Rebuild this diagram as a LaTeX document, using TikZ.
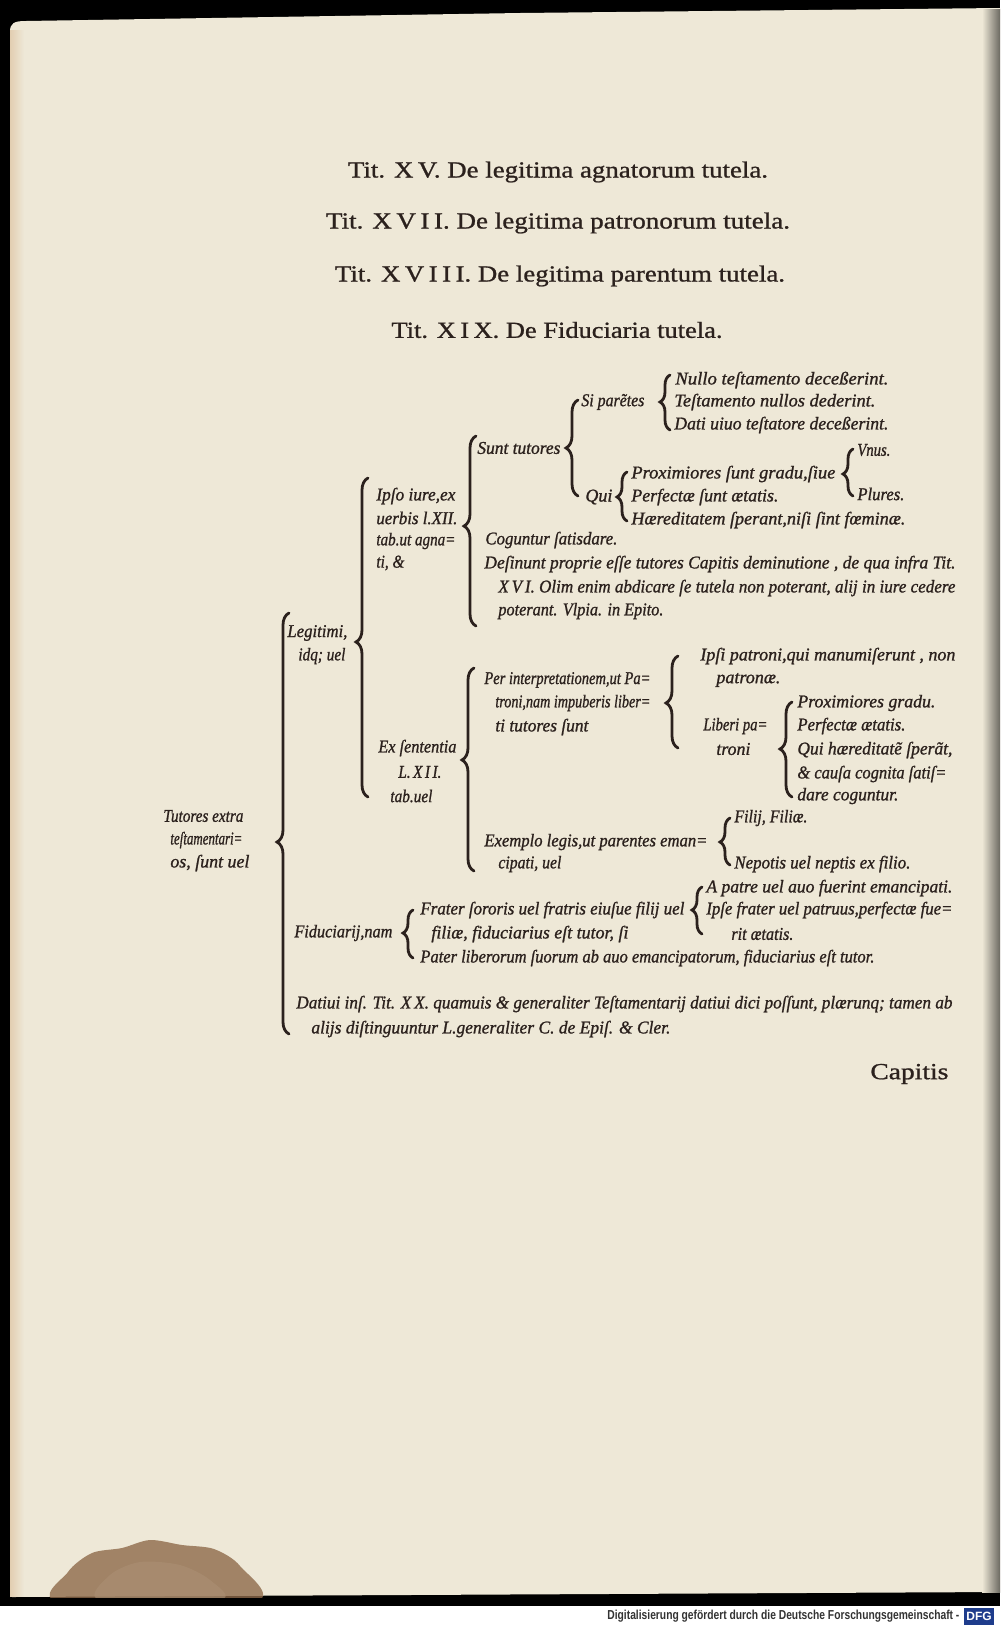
\documentclass[tikz,border=0pt]{standalone}
\usepackage{fontspec}
\setmainfont{Liberation Serif}[UprightFeatures={FakeBold=0.9}, ItalicFeatures={FakeBold=1.1}]
\newfontfamily\footfont{Liberation Sans}
\usepackage{graphicx}
\usetikzlibrary{decorations.pathreplacing}
\definecolor{paper}{HTML}{EEE8D7}
\definecolor{ink}{HTML}{2B211D}
\definecolor{stain}{HTML}{8E6A4A}
\definecolor{dfgblue}{HTML}{1E3C8C}
\newlength\pxu \setlength\pxu{0.5bp}
\newcommand\fw[2]{\resizebox{#1\pxu}{\height}{#2}}
\tikzset{
  tx/.style={anchor=west, inner sep=0pt, text=ink, font=\fontsize{9bp}{10bp}\selectfont\itshape},
  ttl/.style={anchor=center, inner sep=0pt, text=ink, font=\fontsize{11.5bp}{13bp}\selectfont},
  brc/.style 2 args={draw=ink, line width=1.4bp, line cap=round, decorate,
    decoration={brace, amplitude=#1, aspect=#2}},
}
\begin{document}
\begin{tikzpicture}[x=0.5bp, y=-0.5bp]
\useasboundingbox (0,0) rectangle (1000,1626);
% ---------- page and surroundings ----------
\fill[black] (0,0) rectangle (1000,1626);
\fill[white] (0,1606) rectangle (1000,1626);
\fill[paper] (10,32) .. controls (10,23) and (14,21) .. (26,21) -- (520,13) -- (1000,8) -- (1000,1592) -- (12,1597) -- cycle;
\shade[left color=paper, right color=black!55!paper] (982,9) rectangle (1000,1592);
\shade[left color=paper!75!brown, right color=paper] (10,30) rectangle (24,1596);
\begin{scope}
  \clip (0,0) rectangle (1000,1597);
  \fill[stain, opacity=0.8] plot[smooth cycle] coordinates {(60,1602) (68,1572) (92,1553) (122,1548) (150,1540) (182,1545) (214,1549) (240,1566) (254,1602)};
  \fill[stain!70!paper, opacity=0.6] plot[smooth cycle] coordinates {(100,1600) (110,1575) (140,1562) (180,1565) (210,1580) (220,1600)};
\end{scope}
% ---------- titles ----------
\node[ttl] (t1) at (558,172) {\fw{420}{Tit. X\,V. De legitima agnatorum tutela.}};
\node[ttl] (t2) at (558,223) {\fw{464}{Tit. X\,V\,I\,I. De legitima patronorum tutela.}};
\node[ttl] (t3) at (560,276) {\fw{450}{Tit. X\,V\,I\,I\,I. De legitima parentum tutela.}};
\node[ttl] (t4) at (557,330) {\fw{331}{Tit. X\,I\,X. De Fiduciaria tutela.}};
% ---------- text of the table ----------
\node[tx] (n1) at (675,380) {\fw{213}{Nullo teſtamento deceßerint.}};
\node[tx] (n2) at (674,402) {\fw{201}{Teſtamento nullos dederint.}};
\node[tx] (n3) at (674,425) {\fw{214}{Dati uiuo teſtatore deceßerint.}};
\node[tx] (sp) at (581,402) {\fw{63}{Si parẽtes}};
\node[tx] (st) at (477,448) {\fw{83}{Sunt tutores}};
\node[tx] (qu) at (585,497) {\fw{27}{Qui}};
\node[tx] (p1) at (631,474) {\fw{204}{Proximiores ſunt gradu,ſiue}};
\node[tx] (p2) at (631,497) {\fw{147}{Perfectæ ſunt ætatis.}};
\node[tx] (p3) at (631,520) {\fw{274}{Hæreditatem ſperant,niſi ſint fœminæ.}};
\node[tx] (vn) at (857,450) {\fw{33}{Vnus.}};
\node[tx] (pl) at (857,494) {\fw{47}{Plures.}};
\node[tx] (i1) at (376,496) {\fw{79}{Ipſo iure,ex}};
\node[tx] (i2) at (376,518) {\fw{81}{uerbis l.XII.}};
\node[tx] (i3) at (376,541) {\fw{79}{tab.ut agna=}};
\node[tx] (i4) at (376,563) {\fw{28}{ti, \&}};
\node[tx] (co) at (485,540) {\fw{132}{Coguntur ſatisdare.}};
\node[tx] (d1) at (484,564) {\fw{471}{Deſinunt proprie eſſe tutores Capitis deminutione , de qua infra Tit.}};
\node[tx] (d2) at (498,588) {\fw{457}{X\,V\,I. Olim enim abdicare ſe tutela non poterant, alij in iure cedere}};
\node[tx] (d3) at (498,611) {\fw{165}{poterant. Vlpia. in Epito.}};
\node[tx] (l1) at (287,633) {\fw{60}{Legitimi,}};
\node[tx] (l2) at (298,656) {\fw{47}{idq; uel}};
\node[tx] (e1) at (378,748) {\fw{78}{Ex ſententia}};
\node[tx] (e2) at (398,772) {\fw{43}{L.\,X\,I\,I.}};
\node[tx] (e3) at (390,796) {\fw{42}{tab.uel}};
\node[tx] (pi1) at (484,680) {\fw{166}{Per interpretationem,ut Pa=}};
\node[tx] (pi2) at (495,703) {\fw{155}{troni,nam impuberis liber=}};
\node[tx] (pi3) at (495,727) {\fw{93}{ti tutores ſunt}};
\node[tx] (ip1) at (700,656) {\fw{255}{Ipſi patroni,qui manumiſerunt , non}};
\node[tx] (ip2) at (716,680) {\fw{64}{patronæ.}};
\node[tx] (lp1) at (703,726) {\fw{64}{Liberi pa=}};
\node[tx] (lp2) at (716,749) {\fw{34}{troni}};
\node[tx] (q1) at (797,703) {\fw{138}{Proximiores gradu.}};
\node[tx] (q2) at (797,726) {\fw{108}{Perfectæ ætatis.}};
\node[tx] (q3) at (797,750) {\fw{155}{Qui hæreditatẽ ſperãt,}};
\node[tx] (q4) at (797,774) {\fw{149}{\& cauſa cognita ſatiſ=}};
\node[tx] (q5) at (797,796) {\fw{101}{dare coguntur.}};
\node[tx] (ex1) at (484,842) {\fw{223}{Exemplo legis,ut parentes eman=}};
\node[tx] (ex2) at (498,864) {\fw{63}{cipati, uel}};
\node[tx] (f1) at (734,818) {\fw{73}{Filij, Filiæ.}};
\node[tx] (f2) at (734,864) {\fw{176}{Nepotis uel neptis ex filio.}};
\node[tx] (tu1) at (163,816) {\fw{80}{Tutores extra}};
\node[tx] (tu2) at (170,840) {\fw{72}{teſtamentari=}};
\node[tx] (tu3) at (170,863) {\fw{79}{os, ſunt uel}};
\node[tx] (fi) at (294,933) {\fw{98}{Fiduciarij,nam}};
\node[tx] (fr1) at (420,910) {\fw{264}{Frater ſororis uel fratris eiuſue filij uel}};
\node[tx] (fr2) at (431,934) {\fw{197}{filiæ, fiduciarius eſt tutor, ſi}};
\node[tx] (fr3) at (420,958) {\fw{454}{Pater liberorum ſuorum ab auo emancipatorum, fiduciarius eſt tutor.}};
\node[tx] (ap1) at (706,888) {\fw{246}{A patre uel auo fuerint emancipati.}};
\node[tx] (ap2) at (706,910) {\fw{246}{Ipſe frater uel patruus,perfectæ fue=}};
\node[tx] (ap3) at (731,934) {\fw{62}{rit ætatis.}};
\node[tx] (da1) at (296,1004) {\fw{656}{Datiui inſ. Tit. X\,X. quamuis \& generaliter Teſtamentarij datiui dici poſſunt, plærunq; tamen ab}};
\node[tx] (da2) at (311,1029) {\fw{359}{alijs diſtinguuntur L.generaliter C. de Epiſ. \& Cler.}};
\node[tx, font=\fontsize{11.5bp}{13bp}\selectfont] (cap) at (870,1074) {\fw{78}{Capitis}};
% ---------- braces ----------
\coordinate (b1t) at (670,375);  \coordinate (b1b) at (670,430);
\coordinate (b2t) at (578,400);  \coordinate (b2b) at (578,496);
\coordinate (b3t) at (627,472);  \coordinate (b3b) at (627,521);
\coordinate (bvt) at (853,449);  \coordinate (bvb) at (853,496);
\coordinate (b4t) at (476,436);  \coordinate (b4b) at (476,626);
\coordinate (b5t) at (368,478);  \coordinate (b5b) at (368,797);
\coordinate (b6t) at (474,668);  \coordinate (b6b) at (474,871);
\coordinate (b7t) at (678,656);  \coordinate (b7b) at (678,748);
\coordinate (b8t) at (792,702);  \coordinate (b8b) at (792,797);
\coordinate (b9t) at (730,818);  \coordinate (b9b) at (730,865);
\coordinate (b10t) at (289,613); \coordinate (b10b) at (289,1034);
\coordinate (b11t) at (413,910); \coordinate (b11b) at (413,958);
\coordinate (b12t) at (702,887); \coordinate (b12b) at (702,934);
\draw[brc={5bp}{0.509}] (b1b) -- (b1t);
\draw[brc={6bp}{0.5}]   (b2b) -- (b2t);
\draw[brc={5bp}{0.49}]  (b3b) -- (b3t);
\draw[brc={5bp}{0.468}] (bvb) -- (bvt);
\draw[brc={6bp}{0.526}] (b4b) -- (b4t);
\draw[brc={6bp}{0.486}] (b5b) -- (b5t);
\draw[brc={6bp}{0.547}] (b6b) -- (b6t);
\draw[brc={6bp}{0.489}] (b7b) -- (b7t);
\draw[brc={6bp}{0.505}] (b8b) -- (b8t);
\draw[brc={5bp}{0.489}] (b9b) -- (b9t);
\draw[brc={6bp}{0.456}] (b10b) -- (b10t);
\draw[brc={5bp}{0.52}]  (b11b) -- (b11t);
\draw[brc={5bp}{0.51}]  (b12b) -- (b12t);
% ---------- footer ----------
\node[anchor=west, inner sep=0pt, text=black!80, font=\footfont\fontsize{6.5bp}{7bp}\selectfont\bfseries] (foot) at (607,1616) {\fw{352}{Digitalisierung gefördert durch die Deutsche Forschungsgemeinschaft -}};
\node[anchor=west, fill=dfgblue, text=white, inner sep=1bp, minimum width=14bp, minimum height=8.5bp, font=\footfont\fontsize{6bp}{6bp}\selectfont\bfseries] (dfg) at (964,1616) {DFG};
\end{tikzpicture}
\end{document}
